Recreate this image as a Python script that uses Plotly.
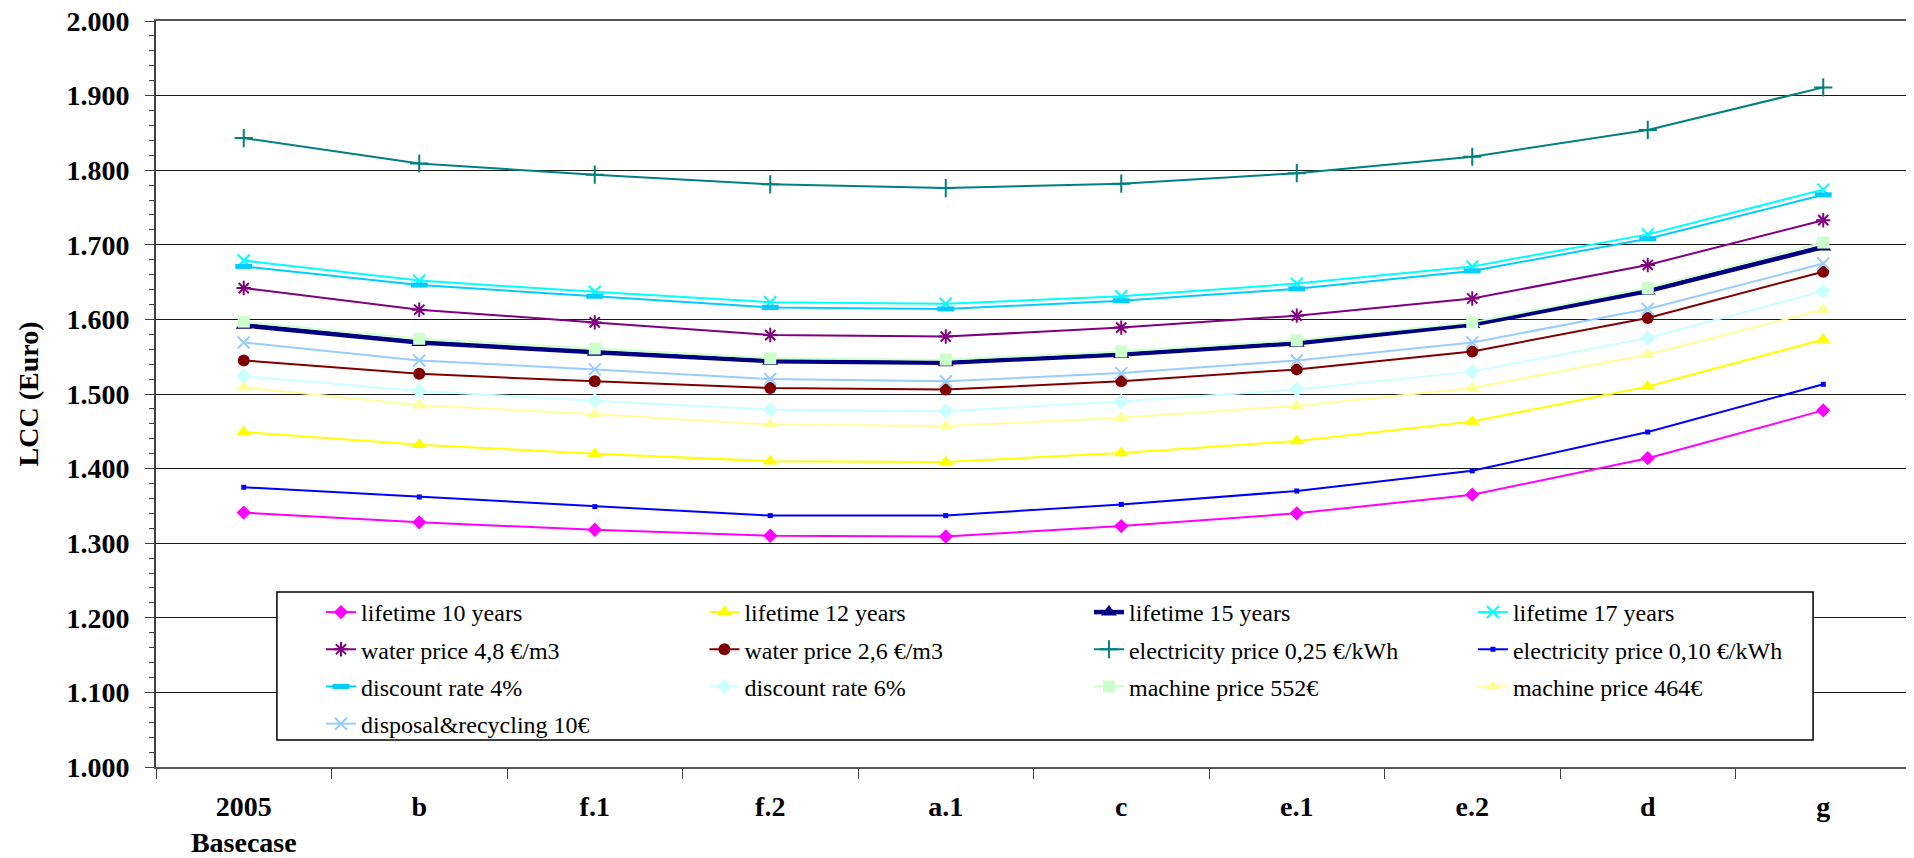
import plotly.graph_objects as go

categories = ["2005<br>Basecase", "b", "f.1", "f.2", "a.1", "c", "e.1", "e.2", "d", "g"]

lifetime_10 = [1341, 1328, 1318, 1310, 1309, 1323, 1340, 1365, 1414, 1478]
lifetime_12 = [1449, 1432, 1420, 1410, 1409, 1421, 1437, 1463, 1510, 1573]
lifetime_15 = [1592, 1569, 1556, 1544, 1542, 1553, 1568, 1593, 1638, 1697]
lifetime_17 = [1679, 1652, 1637, 1623, 1621, 1631, 1648, 1671, 1714, 1774]
water_48 = [1642, 1613, 1596, 1579, 1577, 1589, 1605, 1628, 1673, 1733]
water_26 = [1545, 1527, 1517, 1508, 1506, 1517, 1533, 1557, 1602, 1664]
elec_025 = [1843, 1809, 1794, 1781, 1776, 1782, 1796, 1818, 1854, 1911]
elec_010 = [1375, 1362, 1349, 1337, 1337, 1352, 1370, 1397, 1449, 1513]
discount_4 = [1671, 1646, 1631, 1616, 1614, 1625, 1641, 1665, 1708, 1767]
discount_6 = [1524, 1504, 1491, 1479, 1477, 1490, 1506, 1530, 1575, 1638]
machine_552 = [1597, 1574, 1561, 1548, 1546, 1557, 1572, 1596, 1642, 1703]
machine_464 = [1509, 1485, 1473, 1459, 1457, 1468, 1484, 1508, 1553, 1613]
disposal_10 = [1569, 1545, 1533, 1520, 1517, 1528, 1545, 1569, 1614, 1675]

series_names = [
    "lifetime 10 years", "lifetime 12 years", "lifetime 15 years", "lifetime 17 years",
    "water price 4,8 €/m3", "water price 2,6 €/m3",
    "electricity price 0,25 €/kWh", "electricity price 0,10 €/kWh",
    "discount rate 4%", "discount rate 6%",
    "machine price 552€", "machine price 464€",
    "disposal&recycling 10€",
]
series_values = [lifetime_10, lifetime_12, lifetime_15, lifetime_17, water_48, water_26,
                 elec_025, elec_010, discount_4, discount_6, machine_552, machine_464,
                 disposal_10]

styles = [
    dict(color="#FF00FF", symbol="diamond", size=11, width=2),
    dict(color="#FFFF00", symbol="triangle-up", size=13, width=2),
    dict(color="#000080", symbol="triangle-up", size=14, width=4.5),
    dict(color="#00FFFF", symbol="x-thin-open", size=12, width=2),
    dict(color="#800080", symbol="asterisk-open", size=12, width=2),
    dict(color="#800000", symbol="circle", size=12, width=2),
    dict(color="#008080", symbol="cross-thin-open", size=13, width=2),
    dict(color="#0000FF", symbol="square", size=5, width=2),
    dict(color="#00CCFF", symbol="line-ew", size=12, width=2),
    dict(color="#CCFFFF", symbol="diamond", size=12, width=2),
    dict(color="#CCFFCC", symbol="square", size=12, width=2),
    dict(color="#FFFF99", symbol="triangle-up", size=13, width=2),
    dict(color="#99CCFF", symbol="x-thin-open", size=12, width=2),
]
legend_ids = ["legend", "legend2", "legend3", "legend4"] * 4

fig = go.Figure()
for i, (name, vals, st) in enumerate(zip(series_names, series_values, styles)):
    open_sym = st["symbol"].endswith("open") or st["symbol"] == "line-ew"
    lw = 5 if st["symbol"] == "line-ew" else 2
    fig.add_trace(go.Scatter(
        x=categories, y=vals, name=name, mode="lines+markers",
        line=dict(color=st["color"], width=st["width"]),
        marker=dict(symbol=st["symbol"], size=st["size"], color=st["color"],
                    line=dict(color=st["color"], width=lw if open_sym else 0)),
        legend=legend_ids[i], legendgroup=name,
    ))

font_family = "Liberation Serif"
legend_common = dict(
    orientation="v", xanchor="left", yanchor="top",
    bgcolor="rgba(0,0,0,0)", borderwidth=0, tracegroupgap=3,
    traceorder="grouped",
    font=dict(family=font_family, size=24, color="black"),
)
ly = 0.2373
# page body has an 8px default margin, so the figure is 8px smaller and margins compensate
fig.update_layout(
    width=1906, height=850,
    margin=dict(l=148, r=3, t=13, b=91, autoexpand=False),
    paper_bgcolor="white", plot_bgcolor="white",
    separators=",.",
    font=dict(family=font_family, color="black"),
    legend=dict(x=0.0940, y=ly, **legend_common),
    legend2=dict(x=0.3125, y=ly, **legend_common),
    legend3=dict(x=0.5316, y=ly, **legend_common),
    legend4=dict(x=0.7504, y=ly, **legend_common),
    shapes=[
        dict(type="rect", xref="paper", yref="paper", x0=0.0689, x1=0.9442, y0=0.0362, y1=0.2346,
             fillcolor="white", line=dict(color="black", width=1.5), layer="above"),
        dict(type="line", xref="paper", yref="paper", x0=1, x1=1, y0=0, y1=1,
             line=dict(color="#808080", width=2)),
    ],
)
fig.update_xaxes(
    type="category", range=[-0.5, 9.5], tickson="boundaries", automargin=False,
    ticks="outside", ticklen=10, tickwidth=1, tickcolor="#404040",
    showline=True, linecolor="#555555", linewidth=2, showgrid=False, mirror=True,
    tickfont=dict(family=font_family, size=28, weight="bold", color="black"),
    ticklabelstandoff=13, ticklabeloverflow="allow",
)
fig.update_yaxes(
    range=[1000, 2000], dtick=100, tick0=1000, tickformat=",d", automargin=False,
    ticks="outside", ticklen=9, tickwidth=1, tickcolor="#404040",
    showline=True, linecolor="#404040", linewidth=2,
    showgrid=True, gridcolor="#1a1a1a", gridwidth=1, zeroline=False,
    minor=dict(dtick=20, tick0=1000, ticks="outside", ticklen=5, tickcolor="#404040", showgrid=False),
    tickfont=dict(family=font_family, size=28, weight="bold", color="black"),
    ticklabelstandoff=10, ticklabeloverflow="allow",
    title=dict(text="LCC (Euro)", font=dict(family=font_family, size=28, weight="bold", color="black"),
               standoff=20),
)

fig.write_html("out.html", config={"displayModeBar": False})
